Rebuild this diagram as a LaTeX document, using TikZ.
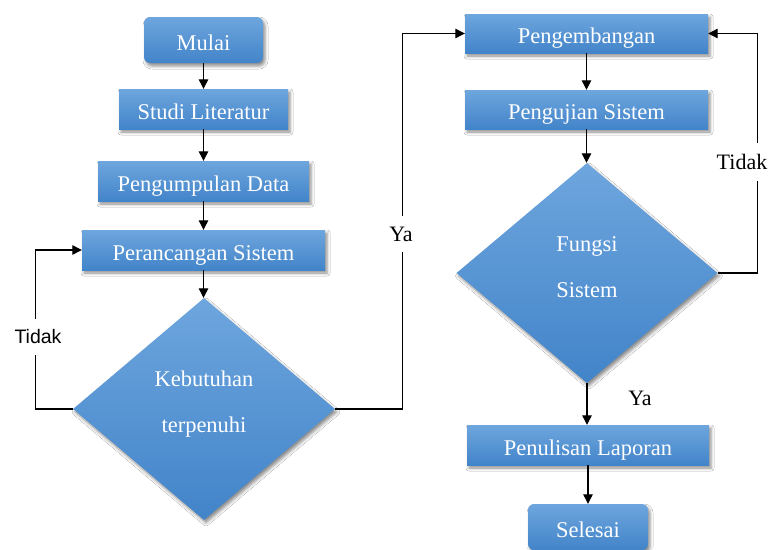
\documentclass[tikz,border=0pt]{standalone}
\usepackage{fontspec}
\setmainfont{Liberation Serif}
\newfontfamily\labelsans{Liberation Sans}
\usetikzlibrary{shapes.geometric,arrows.meta,shadows.blur}
\definecolor{boxtop}{RGB}{110,166,222}
\definecolor{boxbot}{RGB}{66,132,201}
\tikzset{
  flowshade/.style={top color=boxtop, bottom color=boxbot, draw=none, text=white,
    font=\fontsize{22.5}{27}\selectfont,
    blur shadow={shadow xshift=2pt, shadow yshift=-3pt, shadow blur radius=3pt, shadow opacity=45}},
  procbox/.style={flowshade, rectangle, minimum height=40pt, inner sep=0pt,
    text height=20pt, text depth=0pt},
  termbox/.style={flowshade, rectangle, rounded corners=6pt, minimum height=46pt,
    minimum width=119pt, inner sep=0pt, text height=20pt, text depth=0pt},
  decision/.style={flowshade, diamond, inner sep=0pt, align=center,
    font=\fontsize{22.5}{46}\selectfont},
  flow/.style={draw=black, line width=1.2pt, -{Triangle[length=9.5pt,width=9.5pt]}},
  branch/.style={fill=white, inner xsep=2pt, inner ysep=11pt, font=\fontsize{22}{26}\selectfont},
}
\begin{document}
\begin{tikzpicture}[x=1pt, y=-1pt]
  \useasboundingbox[fill=white] (0,0) rectangle (770,549);

  % left column
  \node[termbox] (mulai) at (203.5,40) {Mulai};
  \node[procbox, minimum width=169pt] (studi) at (203.5,109) {Studi Literatur};
  \node[procbox, minimum width=211pt] (kumpul) at (203.5,181) {Pengumpulan Data};
  \node[procbox, minimum width=243pt] (rancang) at (203.5,250) {Perancangan Sistem};
  \node[decision, minimum width=262pt, minimum height=222pt, text depth=15pt] (butuh) at (204,409)
    {Kebutuhan\\terpenuhi};

  % right column
  \node[procbox, minimum width=243pt, minimum height=39pt] (kembang) at (586.5,33.5) {Pengembangan};
  \node[procbox, minimum width=243pt, minimum height=39pt] (uji) at (586.5,109.5) {Pengujian Sistem};
  \node[decision, minimum width=261pt, minimum height=220pt, text depth=12pt] (fungsi) at (587,273)
    {Fungsi\\Sistem};
  \node[procbox, minimum width=242pt] (tulis) at (588,445) {Penulisan Laporan};
  \node[termbox, minimum width=120pt] (selesai) at (588,527) {Selesai};

  % straight flow
  \draw[flow] (mulai.south) -- (mulai.south |- studi.north);
  \draw[flow] (studi.south) -- (studi.south |- kumpul.north);
  \draw[flow] (kumpul.south) -- (kumpul.south |- rancang.north);
  \draw[flow] (rancang.south) -- (rancang.south |- butuh.north);
  \draw[flow] (kembang.south) -- (kembang.south |- uji.north);
  \draw[flow] (uji.south) -- (uji.south |- fungsi.north);
  \draw[flow] (fungsi.south) -- (fungsi.south |- tulis.north);
  \draw[flow] (tulis.south) -- (tulis.south |- selesai.north);

  % loops and branches
  \draw[flow] (butuh.west) -- ++(-37,0) |- (rancang.west);
  \draw[flow] (butuh.east) -- ++(67,0) |- (kembang.west);
  \draw[flow] (fungsi.east) -- ++(40,0) |- (kembang.east);

  % branch labels
  \node[branch, font=\labelsans\fontsize{19.5}{23}\selectfont] (tidakA) at (38,337) {Tidak};
  \node[branch] (yaA) at (401,234) {Ya};
  \node[branch] (tidakB) at (742,162) {Tidak};
  \node[branch, fill=none] (yaB) at (640,398) {Ya};
\end{tikzpicture}
\end{document}
